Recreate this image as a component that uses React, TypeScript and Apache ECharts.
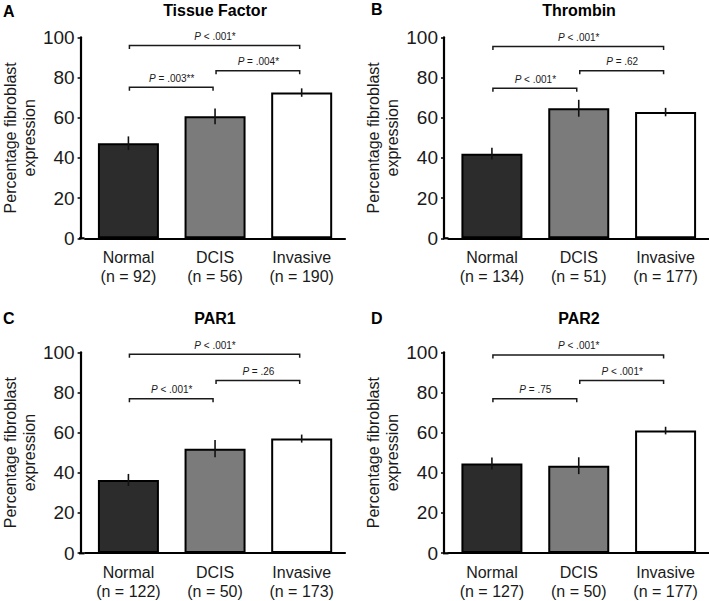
import React, { useEffect, useRef } from "react";
import * as echarts from "echarts";

// ---------- data ----------
const groups = ["Normal", "DCIS", "Invasive"];

const panelTitles = ["Tissue Factor", "Thrombin", "PAR1", "PAR2"];
const panelLetters = ["A", "B", "C", "D"];

const nA = [92, 56, 190];
const nB = [134, 51, 177];
const nC = [122, 50, 173];
const nD = [127, 50, 177];

const meanA = [47.3, 60.7, 72.5];
const meanB = [42.1, 64.7, 62.8];
const meanC = [36.4, 52.0, 57.0];
const meanD = [44.6, 43.5, 61.0];

const errA = [3.4, 3.9, 2.1];
const errB = [2.9, 4.2, 2.1];
const errC = [3.0, 4.3, 2.0];
const errD = [3.0, 4.2, 1.9];

// brackets: [fromIndex, toIndex, height]
const bracketPosA = [[0, 2, 95.9], [0, 1, 75.1], [1, 2, 83.4]];
const bracketPosB = [[0, 2, 95.4], [0, 1, 74.6], [1, 2, 83.4]];
const bracketPosC = [[0, 2, 99.0], [0, 1, 76.8], [1, 2, 85.9]];
const bracketPosD = [[0, 2, 98.7], [0, 1, 76.8], [1, 2, 85.9]];

const pLabelsA = ["< .001*", "= .003**", "= .004*"];
const pLabelsB = ["< .001*", "< .001*", "= .62"];
const pLabelsC = ["< .001*", "< .001*", "= .26"];
const pLabelsD = ["< .001*", "= .75", "< .001*"];

const yTicks = [0, 20, 40, 60, 80, 100];

const barColors = ["#2c2c2c", "#7b7b7b", "#ffffff"];

// ---------- layout ----------
const FONT = "'Liberation Sans', Arial, Helvetica, sans-serif";
const panels = [
  { n: nA, mean: meanA, err: errA, br: bracketPosA, pl: pLabelsA, left: 84.5, top: 37.3 },
  { n: nB, mean: meanB, err: errB, br: bracketPosB, pl: pLabelsB, left: 448.5, top: 37.3 },
  { n: nC, mean: meanC, err: errC, br: bracketPosC, pl: pLabelsC, left: 84.5, top: 352.3 },
  { n: nD, mean: meanD, err: errD, br: bracketPosD, pl: pLabelsD, left: 448.5, top: 352.3 },
];
const GRID_W = 260.5;
const GRID_H = 201;
const AXIS_OFFSET = 4.5;

export default function App() {
  const ref = useRef<HTMLDivElement>(null);

  useEffect(() => {
    if (!ref.current) return;
    const chart = echarts.init(ref.current, undefined, { renderer: "svg" });

    const grid: any[] = [];
    const xAxis: any[] = [];
    const yAxis: any[] = [];
    const series: any[] = [];
    const graphic: any[] = [];

    panels.forEach((p, i) => {
      grid.push({ left: p.left, top: p.top, width: GRID_W, height: GRID_H, containLabel: false });
      xAxis.push({
        type: "category",
        gridIndex: i,
        data: groups.map((g, k) => g + "\n(n = " + p.n[k] + ")"),
        axisLine: { show: true, lineStyle: { color: "#000", width: 2.2 } },
        axisTick: { show: false },
        axisLabel: {
          color: "#1a1a1a",
          fontFamily: FONT,
          fontSize: 16,
          lineHeight: 19,
          margin: 10,
          interval: 0,
        },
        splitLine: { show: false },
      });
      yAxis.push({
        type: "value",
        gridIndex: i,
        min: yTicks[0],
        max: yTicks[yTicks.length - 1],
        interval: 20,
        offset: AXIS_OFFSET,
        name: "Percentage fibroblast\nexpression",
        nameLocation: "middle",
        nameGap: 37,
        nameRotate: 90,
        nameTextStyle: { color: "#1a1a1a", fontFamily: FONT, fontSize: 16, lineHeight: 19 },
        axisLine: { show: true, lineStyle: { color: "#000", width: 2.2 } },
        axisTick: { show: true, length: 3, lineStyle: { color: "#000", width: 1.5 } },
        axisLabel: { color: "#1a1a1a", fontFamily: FONT, fontSize: 19, margin: 6 },
        splitLine: { show: false },
      });

      series.push({
        type: "bar",
        xAxisIndex: i,
        yAxisIndex: i,
        barWidth: 61,
        data: p.mean.map((v, k) => ({
          value: v,
          itemStyle: { color: barColors[k], borderColor: "#000", borderWidth: 2 },
        })),
        z: 2,
      });

      series.push({
        type: "custom",
        xAxisIndex: i,
        yAxisIndex: i,
        data: p.mean.map((v, k) => [k, v - p.err[k], v + p.err[k]]),
        encode: { x: 0, y: [1, 2] },
        z: 3,
        renderItem: (params: any, api: any) => {
          const x = api.value(0);
          const a = api.coord([x, api.value(1)]);
          const b = api.coord([x, api.value(2)]);
          return {
            type: "line",
            shape: { x1: a[0], y1: a[1], x2: b[0], y2: b[1] },
            style: { stroke: "#111", lineWidth: 1.6 },
          };
        },
      });

      series.push({
        type: "custom",
        xAxisIndex: i,
        yAxisIndex: i,
        data: p.br.map((b) => [b[0], b[1], b[2]]),
        encode: { x: [0, 1], y: 2 },
        z: 4,
        clip: false,
        renderItem: (params: any, api: any) => {
          const idx = params.dataIndex;
          const from = api.value(0);
          const to = api.value(1);
          const h = api.value(2);
          const s = api.coord([from, h]);
          const e = api.coord([to, h]);
          const arm = 3.5;
          return {
            type: "group",
            children: [
              {
                type: "polyline",
                shape: {
                  points: [
                    [s[0] + 1, s[1] + arm],
                    [s[0] + 1, s[1]],
                    [e[0] - 2, e[1]],
                    [e[0] - 2, e[1] + arm],
                  ],
                },
                style: { stroke: "#1a1a1a", lineWidth: 1.5, fill: null },
              },
              {
                type: "text",
                x: (s[0] + e[0]) / 2,
                y: s[1] - 4,
                style: {
                  text: "{i|P} " + p.pl[idx],
                  fill: "#1a1a1a",
                  font: "10px " + FONT,
                  align: "center",
                  verticalAlign: "bottom",
                  rich: {
                    i: { fontStyle: "italic", fontSize: 10, fontFamily: FONT, fill: "#1a1a1a" },
                  },
                },
              },
            ],
          };
        },
      });

      const titleX = i % 2 === 0 ? 215 : 579;
      const titleY = i < 2 ? 10 : 318.5;
      graphic.push({
        type: "text",
        x: titleX,
        y: titleY,
        style: {
          text: panelTitles[i],
          font: "bold 16px " + FONT,
          fill: "#000",
          align: "center",
          verticalAlign: "middle",
        },
      });
      graphic.push({
        type: "text",
        x: i % 2 === 0 ? 3 : 371,
        y: i < 2 ? (i === 0 ? 11 : 9) : 318.5,
        style: {
          text: panelLetters[i],
          font: "bold 16px " + FONT,
          fill: "#000",
          align: "left",
          verticalAlign: "middle",
        },
      });
      // close the corner between the offset y axis and x axis
      graphic.push({
        type: "line",
        shape: {
          x1: p.left - AXIS_OFFSET - 1,
          y1: p.top + GRID_H,
          x2: p.left,
          y2: p.top + GRID_H,
        },
        style: { stroke: "#000", lineWidth: 2.2 },
      });
    });

    chart.setOption({
      animation: false,
      backgroundColor: "#fff",
      grid,
      xAxis,
      yAxis,
      series,
      graphic,
    });

    return () => chart.dispose();
  }, []);

  return (
    <div
      ref={ref}
      style={{ position: "fixed", left: 0, top: 0, width: 709, height: 601, background: "#fff" }}
    />
  );
}
